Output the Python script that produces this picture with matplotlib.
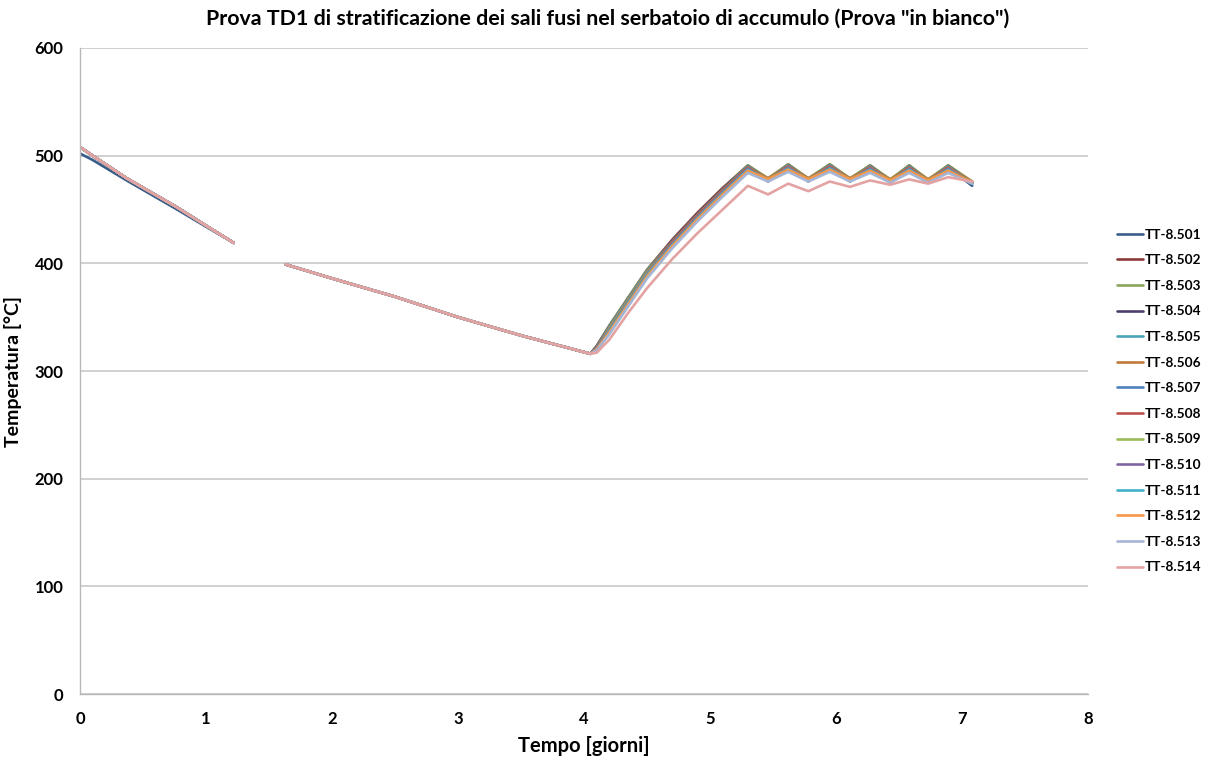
import matplotlib.pyplot as plt
import numpy as np

# Time axis [days] of the three phases
t_cool_a = [0.0, 0.1, 0.37, 0.77, 1.0, 1.22]
t_cool_b = [1.63, 2.0, 2.5, 3.0, 3.5, 4.05]
t_heat = [4.1, 4.2, 4.35, 4.5, 4.7, 4.9, 5.1, 5.30, 5.46, 5.62, 5.78,
          5.95, 6.11, 6.27, 6.43, 6.58, 6.73, 6.89, 7.08]

# Cooling phases, common to all sensors
T_cool_a = [508, 500, 479, 452, 435, 419]
T_cool_a_501 = [502, 496, 477, 450, 434, 419]
T_cool_b = [399, 386, 369, 350, 333, 316]

# Heating phase, one list per thermocouple [°C]
tt501 = [322, 340, 366, 392, 420, 445, 468, 489, 476, 490, 476, 490, 476, 489, 475, 489, 475, 489, 472]
tt502 = [323, 342, 368, 394, 422, 447, 470, 491, 478, 492, 478, 492, 478, 491, 477, 491, 477, 491, 475]
tt503 = [323, 342, 368, 394, 421, 446, 469, 491, 479, 492, 479, 492, 479, 491, 478, 491, 478, 491, 476]
tt504 = [323, 341, 367, 393, 421, 446, 469, 490, 478, 491, 478, 491, 478, 490, 477, 490, 477, 490, 475]
tt505 = [322, 341, 367, 393, 420, 445, 468, 490, 478, 491, 478, 491, 478, 490, 477, 490, 477, 490, 475]
tt506 = [322, 340, 366, 392, 420, 445, 468, 489, 479, 490, 479, 490, 479, 489, 478, 489, 478, 489, 476]
tt507 = [321, 339, 365, 391, 419, 444, 467, 488, 477, 489, 477, 489, 477, 488, 476, 488, 476, 488, 474]
tt508 = [321, 339, 365, 391, 419, 444, 467, 489, 478, 490, 478, 490, 478, 489, 477, 489, 477, 489, 475]
tt509 = [321, 339, 365, 391, 418, 443, 466, 488, 478, 489, 478, 489, 478, 488, 477, 488, 477, 488, 475]
tt510 = [321, 338, 364, 390, 418, 443, 466, 488, 477, 489, 477, 489, 477, 488, 476, 488, 476, 488, 474]
tt511 = [320, 337, 363, 389, 417, 442, 465, 487, 477, 488, 477, 488, 477, 487, 476, 487, 476, 487, 474]
tt512 = [320, 336, 362, 388, 416, 441, 464, 486, 478, 487, 478, 487, 478, 486, 477, 486, 477, 486, 475]
tt513 = [319, 334, 360, 386, 414, 439, 462, 484, 476, 485, 476, 485, 476, 484, 475, 484, 475, 484, 474]
tt514 = [317, 329, 354, 377, 404, 428, 450, 472, 464, 474, 467, 476, 471, 477, 473, 478, 474, 480, 476]

labels = ["TT-8.%d" % n for n in range(501, 515)]
heating = [tt501, tt502, tt503, tt504, tt505, tt506, tt507,
           tt508, tt509, tt510, tt511, tt512, tt513, tt514]
colors = ["#385D8A", "#8C3836", "#8EA65A", "#4F3F6E", "#4BA3B8", "#C07A3A",
          "#4F81BD", "#C0504D", "#9BBB59", "#8064A2", "#3FB0C8", "#F79646",
          "#A5B5D5", "#E3A3A2"]

plt.rcParams["font.family"] = ["Lato", "DejaVu Sans"]

fig = plt.figure(figsize=(12.05, 7.58), dpi=100)
ax = fig.add_axes([0.0664, 0.0844, 0.8366, 0.8523])

for i in range(14):
    cool_a = T_cool_a_501 if i == 0 else T_cool_a
    t = t_cool_a + [np.nan] + t_cool_b + t_heat
    T = cool_a + [np.nan] + T_cool_b + heating[i]
    ax.plot(t, T, color=colors[i], lw=1.9, label=labels[i],
            solid_joinstyle="round", solid_capstyle="round")

ax.set_xlim(0, 8)
ax.set_ylim(0, 600)
ax.set_xticks(range(0, 9))
ax.set_yticks(range(0, 601, 100))
ax.grid(axis="y", color="#C8C8C8", lw=1.2)
ax.set_axisbelow(True)
for s in ["top", "right"]:
    ax.spines[s].set_visible(False)
for s in ["left", "bottom"]:
    ax.spines[s].set_color("#B8B8B8")
    ax.spines[s].set_linewidth(1.0)
ax.tick_params(length=0, labelsize=12, pad=12)
for lab in ax.get_xticklabels() + ax.get_yticklabels():
    lab.set_fontweight("bold")

ax.set_xlabel("Tempo [giorni]", fontsize=14.5, fontweight="bold", labelpad=7)
ax.set_ylabel("Temperatura [°C]", fontsize=14, fontweight="bold", labelpad=9)
fig.suptitle('Prova TD1 di stratificazione dei sali fusi nel serbatoio di accumulo (Prova "in bianco")',
             fontsize=15.4, fontweight="bold", x=0.504, y=0.988)

fig.legend(loc="center left", bbox_to_anchor=(0.917, 0.471), frameon=False,
           handlelength=1.9, handletextpad=0.15, labelspacing=1.0,
           prop={"family": ["Lato", "DejaVu Sans"], "weight": "bold", "size": 9.8})

fig.savefig("out.png", dpi=100)
